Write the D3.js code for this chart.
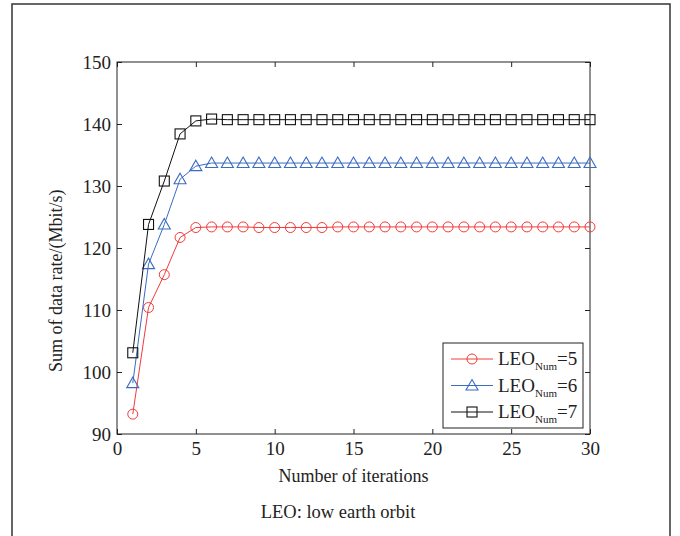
<!DOCTYPE html>
<html>
<head>
<meta charset="utf-8">
<script src="https://cdn.jsdelivr.net/npm/d3@7"></script>
<style>
  body { margin: 0; background: #fff; }
  text { font-family: "Liberation Serif", "Times New Roman", Times, serif; }
</style>
</head>
<body>
<svg id="chart" width="680" height="536"></svg>
<script>
const iterations = d3.range(1, 31);
const leo5 = [93.2, 110.4, 115.7, 121.7, 123.3, 123.4, 123.4, 123.4, 123.3, 123.3, 123.3, 123.3, 123.3, 123.4, 123.4,
  123.4, 123.4, 123.4, 123.4, 123.4, 123.4, 123.4, 123.4, 123.4, 123.4, 123.4, 123.4, 123.4, 123.4, 123.4];
const leo6 = [98.2, 117.4, 123.8, 131.1, 133.2, 133.7, 133.7, 133.7, 133.7, 133.7, 133.7, 133.7, 133.7, 133.7, 133.7,
  133.7, 133.7, 133.7, 133.7, 133.7, 133.7, 133.7, 133.7, 133.7, 133.7, 133.7, 133.7, 133.7, 133.7, 133.7];
const leo7 = [103.1, 123.8, 130.8, 138.4, 140.5, 140.8, 140.7, 140.7, 140.7, 140.7, 140.7, 140.7, 140.7, 140.7, 140.7,
  140.7, 140.7, 140.7, 140.7, 140.7, 140.7, 140.7, 140.7, 140.7, 140.7, 140.7, 140.7, 140.7, 140.7, 140.7];
const xTicks = [0, 5, 10, 15, 20, 25, 30];
const yTicks = [90, 100, 110, 120, 130, 140, 150];
const seriesNames = ["5", "6", "7"];

const series = [
  { name: seriesNames[0], values: leo5, color: "#f23a3a", marker: "circle" },
  { name: seriesNames[1], values: leo6, color: "#3a6cc0", marker: "triangle" },
  { name: seriesNames[2], values: leo7, color: "#111111", marker: "square" }
];

const serif = "'Liberation Serif', 'Times New Roman', serif";
const svg = d3.select("#chart");
const margin = { left: 117, top: 62, right: 90, bottom: 102 };
const W = 680, H = 536;
const x = d3.scaleLinear().domain([0, 30]).range([margin.left, W - margin.right]);
const y = d3.scaleLinear().domain([90, 150]).range([H - margin.bottom, margin.top]);

// outer frame
svg.append("rect")
  .attr("x", 12).attr("y", 4).attr("width", 658).attr("height", 560)
  .attr("fill", "none").attr("stroke", "#333").attr("stroke-width", 1.5);

// plot box
svg.append("rect")
  .attr("x", x(0)).attr("y", y(150))
  .attr("width", x(30) - x(0)).attr("height", y(90) - y(150))
  .attr("fill", "none").attr("stroke", "#222").attr("stroke-width", 1);

const tickLen = 5;
const styleAxis = g => {
  g.attr("font-family", serif).attr("font-size", 19);
  g.select(".domain").remove();
  g.selectAll(".tick line").attr("stroke", "#222");
  g.selectAll(".tick text").attr("fill", "#222");
};

svg.append("g").attr("transform", `translate(0,${y(90)})`)
  .call(d3.axisBottom(x).tickValues(xTicks).tickSizeInner(-tickLen).tickSizeOuter(0).tickPadding(8))
  .call(styleAxis);
svg.append("g").attr("transform", `translate(0,${y(150)})`)
  .call(d3.axisTop(x).tickValues(xTicks).tickSizeInner(-tickLen).tickSizeOuter(0).tickFormat(""))
  .call(styleAxis);
svg.append("g").attr("transform", `translate(${x(0)},0)`)
  .call(d3.axisLeft(y).tickValues(yTicks).tickSizeInner(-tickLen).tickSizeOuter(0).tickPadding(6))
  .call(styleAxis);
svg.append("g").attr("transform", `translate(${x(30)},0)`)
  .call(d3.axisRight(y).tickValues(yTicks).tickSizeInner(-tickLen).tickSizeOuter(0).tickFormat(""))
  .call(styleAxis);

const line = d3.line().x((d, i) => x(iterations[i])).y(d => y(d));

const drawMarker = (g, type, color, cx, cy) => {
  if (type === "circle") {
    g.append("circle").attr("cx", cx).attr("cy", cy).attr("r", 5)
      .attr("fill", "none").attr("stroke", color).attr("stroke-width", 1);
  } else if (type === "triangle") {
    g.append("path")
      .attr("d", `M${cx},${cy - 6}L${cx + 6},${cy + 4.5}L${cx - 6},${cy + 4.5}Z`)
      .attr("fill", "none").attr("stroke", color).attr("stroke-width", 1.1);
  } else {
    g.append("rect").attr("x", cx - 5).attr("y", cy - 5).attr("width", 10).attr("height", 10)
      .attr("fill", "none").attr("stroke", color).attr("stroke-width", 1.1);
  }
};

series.forEach(s => {
  const g = svg.append("g");
  g.append("path").datum(s.values).attr("d", line)
    .attr("fill", "none").attr("stroke", s.color).attr("stroke-width", 1);
  s.values.forEach((v, i) => drawMarker(g, s.marker, s.color, x(iterations[i]), y(v)));
});

// legend
const lg = svg.append("g").attr("transform", "translate(443,343)");
lg.append("rect").attr("width", 140).attr("height", 85)
  .attr("fill", "#fff").attr("stroke", "#222").attr("stroke-width", 1);
series.forEach((s, i) => {
  const cy = 16 + i * 26.5;
  lg.append("line").attr("x1", 8).attr("x2", 50).attr("y1", cy).attr("y2", cy)
    .attr("stroke", s.color).attr("stroke-width", 1);
  drawMarker(lg, s.marker, s.color, 29, cy);
  const t = lg.append("text").attr("x", 55).attr("y", cy + 6)
    .attr("font-family", serif).attr("font-size", 19).attr("fill", "#222");
  t.append("tspan").text("LEO");
  t.append("tspan").attr("dy", 5).attr("font-size", 11).text("Num");
  t.append("tspan").attr("dy", -5).text("=" + s.name);
});

// axis titles
svg.append("text")
  .attr("transform", `translate(62,${y(100)}) rotate(-90)`)
  .attr("text-anchor", "start").attr("font-family", serif).attr("font-size", 18).attr("fill", "#222")
  .text("Sum of data rate/(Mbit/s)");
svg.append("text")
  .attr("x", (x(0) + x(30)) / 2).attr("y", 482)
  .attr("text-anchor", "middle").attr("font-family", serif).attr("font-size", 18).attr("fill", "#222")
  .text("Number of iterations");
svg.append("text")
  .attr("x", 338).attr("y", 518)
  .attr("text-anchor", "middle").attr("font-family", serif).attr("font-size", 18.5).attr("fill", "#222")
  .text("LEO: low earth orbit");
</script>
</body>
</html>
